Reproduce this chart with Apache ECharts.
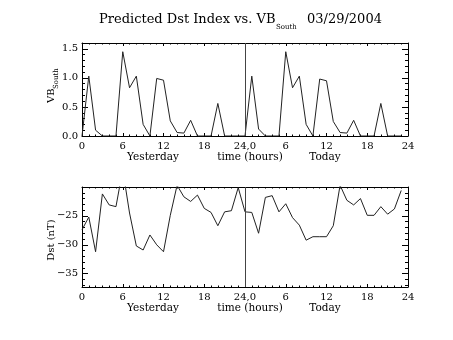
<!DOCTYPE html>
<html>
<head>
<meta charset="utf-8">
<script src="https://cdn.jsdelivr.net/npm/echarts@6/dist/echarts.min.js"></script>
<style>html,body{margin:0;padding:0;background:#fff}#c{width:453px;height:340px}</style>
</head>
<body>
<div id="c"></div>
<script>
const hours = [0,1,2,3,4,5,6,7,8,9,10,11,12,13,14,15,16,17,18,19,20,21,22,23,
  24,25,26,27,28,29,30,31,32,33,34,35,36,37,38,39,40,41,42,43,44,45,46,47];
const vbSouth = [0,1.03,0.1,0,0,0,1.45,0.83,1.03,0.2,0,0.99,0.96,0.26,0.06,0.05,0.27,0,0,0,0.56,0,0,0,
  0,1.03,0.12,0,0,0,1.45,0.83,1.03,0.2,0,0.98,0.95,0.25,0.06,0.05,0.27,0,0,0,0.56,0,0,0];
const dst = [-27.4,-25.2,-31.2,-21.2,-23.1,-23.4,-17,-24.5,-30.2,-30.9,-28.3,-30.0,-31.2,-24.9,-19.7,-21.7,-22.5,-21.4,-23.7,-24.4,-26.7,-24.3,-24.1,-20.1,
  -24.3,-24.4,-28.0,-21.8,-21.5,-24.3,-22.9,-25.3,-26.6,-29.2,-28.6,-28.6,-28.6,-26.7,-19.7,-22.3,-23.1,-22.0,-24.9,-24.9,-23.4,-24.7,-23.8,-20.6];
const xTickValues = [0,6,12,18,24,30,36,42,48];
const xTickLabels = ['0','6','12','18','24,0','6','12','18','24'];
const dayBoundary = 24;
const vbMajor = [0,0.5,1.0,1.5];
const vbMajorLabels = ['0.0','0.5','1.0','1.5'];
const vbMinor = [0.1,0.2,0.3,0.4,0.6,0.7,0.8,0.9,1.1,1.2,1.3,1.4,1.6];
const vbRange = [0,1.6];
const dstMajor = [-35,-30,-25];
const dstMajorLabels = ['\u221235','\u221230','\u221225'];
const dstMinor = [-37,-36,-34,-33,-32,-31,-29,-28,-27,-26,-24,-23,-22,-21,-20];
const dstRange = [-37.3,-20];

const FONT = 'DejaVu Serif';
function xAxis(grid, pos, showLabel) {
  return {
    type:'value', gridIndex:grid, position:pos, min:0, max:48, interval:6,
    axisLine:{show:true, onZero:false, lineStyle:{color:'#000', width:1}},
    axisTick:{show:true, inside:true, length:3, lineStyle:{color:'#000', width:1}},
    minorTick:{show:true, splitNumber:6, length:1.5, lineStyle:{color:'#000', width:1}},
    splitLine:{show:false}, minorSplitLine:{show:false},
    axisLabel:{show:showLabel, margin:5, color:'#000', fontFamily:FONT, fontSize:10,
      formatter:function(v){ const i = xTickValues.indexOf(v); return i >= 0 ? xTickLabels[i] : ''; }}
  };
}
function yAxis(grid, pos, range, ticks, labels, len, showLine) {
  return {
    type:'value', gridIndex:grid, position:pos, min:range[0], max:range[1],
    axisLine:{show:showLine, onZero:false, lineStyle:{color:'#000', width:1}},
    axisTick:{show:true, inside:true, length:len, customValues:ticks, lineStyle:{color:'#000', width:1}},
    splitLine:{show:false},
    axisLabel: labels ? {show:true, customValues:ticks, margin:4, color:'#000', fontFamily:FONT, fontSize:10,
      formatter:function(v){ let i = ticks.findIndex(t => Math.abs(t - v) < 1e-6); return i >= 0 ? labels[i] : ''; }}
      : {show:false}
  };
}
const vLine = {
  silent:true, symbol:['none','none'], label:{show:false},
  lineStyle:{color:'#444', width:1, type:'solid'}, data:[{xAxis:dayBoundary}]
};
const chart = echarts.init(document.getElementById('c'), null, {renderer:'canvas'});
const txt = (x, y, text, size, align, rot) => ({type:'text', x:x, y:y, rotation:rot || 0,
  style:{text:text, font:size + 'px "DejaVu Serif"', fill:'#000', textAlign:align, textVerticalAlign:'middle'}});
chart.setOption({
  animation:false,
  backgroundColor:'#fff',
  grid:[
    {left:82, top:43, width:326, height:93},
    {left:82, top:187, width:326, height:100}
  ],
  xAxis:[xAxis(0,'bottom',true), xAxis(0,'top',false), xAxis(1,'bottom',true), xAxis(1,'top',false)],
  yAxis:[
    yAxis(0,'left',vbRange,vbMajor,vbMajorLabels,6,true),
    yAxis(0,'left',vbRange,vbMinor,null,3,false),
    yAxis(0,'right',vbRange,vbMajor,null,6,true),
    yAxis(0,'right',vbRange,vbMinor,null,3,false),
    yAxis(1,'left',dstRange,dstMajor,dstMajorLabels,6,true),
    yAxis(1,'left',dstRange,dstMinor,null,3,false),
    yAxis(1,'right',dstRange,dstMajor,null,6,true),
    yAxis(1,'right',dstRange,dstMinor,null,3,false)
  ],
  series:[
    {type:'line', xAxisIndex:0, yAxisIndex:0, showSymbol:false, clip:true,
     lineStyle:{color:'#222', width:1}, data:hours.map((h,i)=>[h, vbSouth[i]]), markLine:vLine},
    {type:'line', xAxisIndex:2, yAxisIndex:4, showSymbol:false, clip:true,
     lineStyle:{color:'#222', width:1}, data:hours.map((h,i)=>[h, dst[i]]), markLine:vLine}
  ],
  graphic:[
    txt(99, 20, 'Predicted Dst Index vs. VB', 13, 'left'),
    txt(276, 27, 'South', 7, 'left'),
    txt(307, 20, '03/29/2004', 13, 'left'),
    txt(51, 103, 'VB', 10, 'left', Math.PI/2),
    txt(56, 89, 'South', 7, 'left', Math.PI/2),
    txt(51, 240, 'Dst (nT)', 10, 'center', Math.PI/2),
    txt(153, 157, 'Yesterday', 10.5, 'center'),
    txt(250, 157, 'time (hours)', 10.5, 'center'),
    txt(325, 157, 'Today', 10.5, 'center'),
    txt(153, 308, 'Yesterday', 10.5, 'center'),
    txt(250, 308, 'time (hours)', 10.5, 'center'),
    txt(325, 308, 'Today', 10.5, 'center')
  ]
});
</script>
</body>
</html>
